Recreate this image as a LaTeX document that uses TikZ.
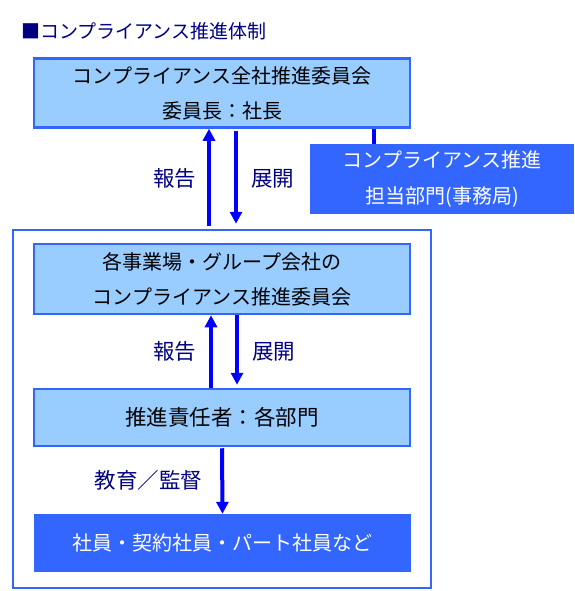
\documentclass[tikz,border=0pt]{standalone}
\usepackage{fontspec}
\setmainfont{Noto Sans CJK JP}
\usetikzlibrary{arrows.meta,positioning}
\definecolor{paleblue}{RGB}{153,204,255}
\definecolor{edgeblue}{RGB}{51,102,255}
\definecolor{flowblue}{RGB}{0,0,255}
\definecolor{navytext}{RGB}{0,0,128}
\tikzset{
  lightbox/.style={draw=edgeblue, line width=2.5pt, fill=paleblue, minimum width=376pt,
    align=center, inner sep=0pt, font=\fontsize{20}{35}\selectfont},
  darkbox/.style={fill=edgeblue, text=white, align=center, inner sep=0pt,
    font=\fontsize{20}{36}\selectfont},
  frame/.style={draw=edgeblue, line width=2.5pt, minimum width=418pt, minimum height=358pt},
  flow/.style={flowblue, line width=4pt, -{Triangle[width=12pt,length=12pt]}},
  link/.style={flowblue, line width=3.5pt},
  tag/.style={text=navytext, font=\fontsize{21.5}{24}\selectfont, inner sep=0pt}
}
\begin{document}
\begin{tikzpicture}[x=1pt, y=-1pt]
    \useasboundingbox (0,0) rectangle (574,591);
    \node [anchor=west, tag, font=\fontsize{19}{22}\selectfont] (title) at (21,31) {■コンプライアンス推進体制};
    \node [lightbox, minimum height=69pt] (hq) at (222,93) {コンプライアンス全社推進委員会\\委員長：社長};
    \node [darkbox, minimum width=264pt, minimum height=70pt] (office) at (442,179) {コンプライアンス推進\\担当部門(事務局)};
    \node [frame] (group) at (222,409) {};
    \node [lightbox, minimum height=70pt] (site) at (222,279) {各事業場・グループ会社の\\コンプライアンス推進委員会};
    \node [lightbox, minimum height=57pt, font=\fontsize{21.5}{24}\selectfont] (lead) at (222,417.5) {推進責任者：各部門};
    \node [darkbox, minimum width=377pt, minimum height=58pt] (staff) at (222.5,543) {社員・契約社員・パート社員など};
    \coordinate (tap) at ([xshift=152pt]hq.south);
    \draw [link] (tap) -- (tap |- office.north);
    \draw [flow, shorten <=3pt] ([xshift=-13pt]group.north) -- node [tag, left=11pt] (up1) {報告} ([xshift=-13pt]hq.south);
    \draw [flow, shorten <=2pt, shorten >=5pt] ([xshift=14pt]hq.south) -- node [tag, right=13pt] (down1) {展開} ([xshift=14pt]group.north);
    \draw [flow] ([xshift=-11pt]lead.north) -- node [tag, left=13pt] (up2) {報告} ([xshift=-11pt]site.south);
    \draw [flow, shorten >=3pt] ([xshift=15pt]site.south) -- node [tag, right=13pt] (down2) {展開} ([xshift=15pt]lead.north);
    \draw [flow, shorten <=1pt] (lead.south) -- node [tag, left=18pt] (teach) {教育／監督} (staff.north);
  \end{tikzpicture}
\end{document}
